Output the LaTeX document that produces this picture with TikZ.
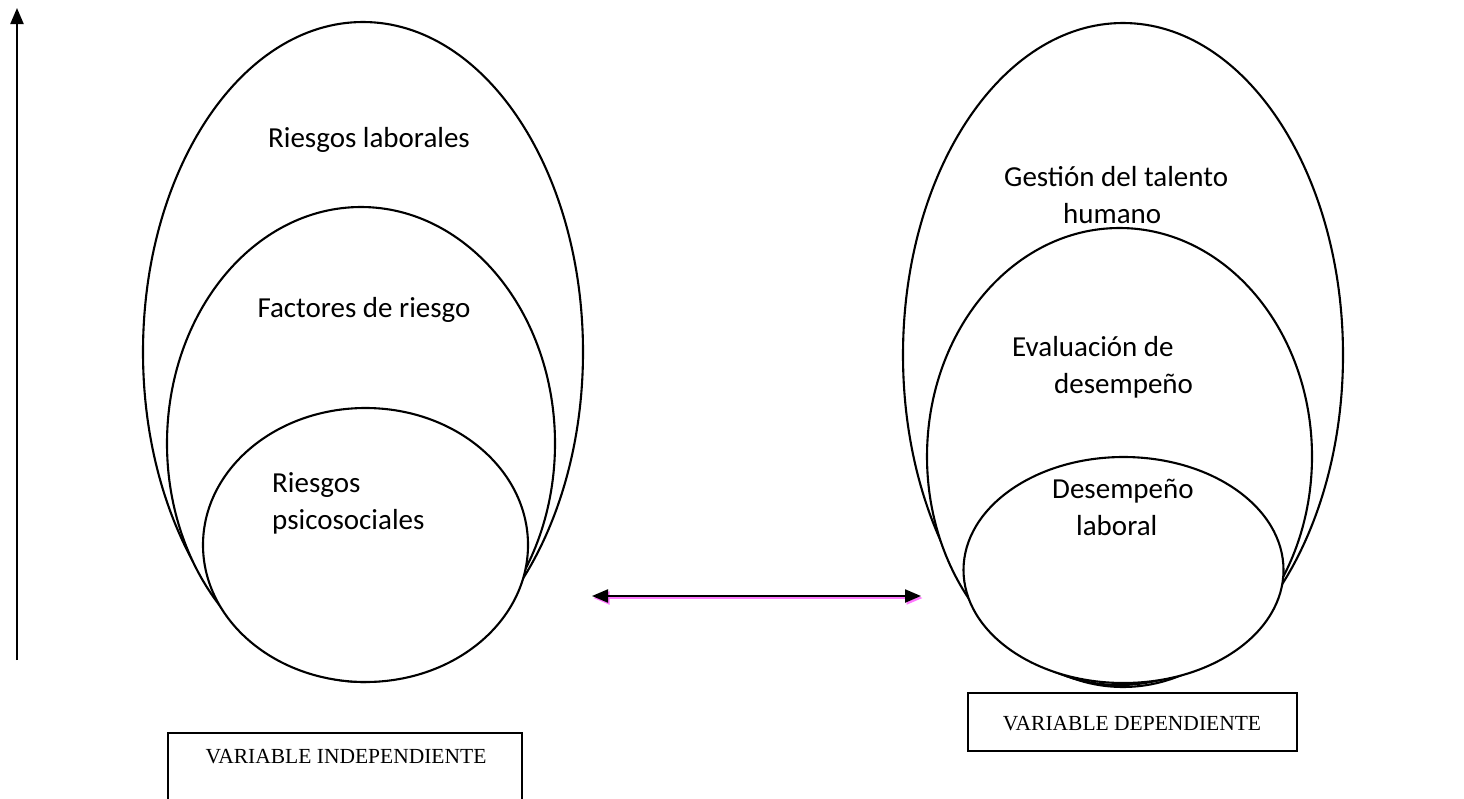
\documentclass[tikz,border=0pt]{standalone}
\usepackage{fontspec}
\usetikzlibrary{shapes.geometric,arrows.meta}
\newfontfamily\bodyfont{Carlito}
\newfontfamily\boxfont{Liberation Serif}
\definecolor{shadowpink}{RGB}{255,120,255}
\tikzset{
  ring/.style={draw, ellipse, line width=2.1pt, fill=white, inner sep=0pt},
  lbl/.style={inner sep=0pt, font=\bodyfont\fontsize{29}{37}\selectfont},
  varbox/.style={draw, rectangle, line width=2pt, inner sep=0pt},
  vartext/.style={inner sep=0pt, font=\boxfont\fontsize{21.5}{25}\selectfont},
  tip/.style={-{Triangle[length=16pt,width=13pt]}},
  bitip/.style={{Triangle[length=16pt,width=13pt]}-{Triangle[length=16pt,width=13pt]}}
}
\begin{document}
\begin{tikzpicture}[x=1pt,y=-1pt]
\useasboundingbox (0,0) rectangle (1464,798);
\clip (0,0) rectangle (1464,798);
\fill[white] (0,0) rectangle (1464,798);

% vertical axis arrow
\coordinate (vbot) at (17,660);
\coordinate (vtop) at (17,8);
\draw[line width=2.2pt, tip] (vbot) -- (vtop);

% independent variable: nested ellipses
\node[ring, minimum width=440pt, minimum height=660pt] (lo) at (363,352) {};
\node[ring, minimum width=388pt, minimum height=473pt] (lm) at (361,443.5) {};
\node[ring, minimum width=325pt, minimum height=274pt] (ls) at (365.5,545) {};
\node[lbl] (t1) at (369,140) {Riesgos laborales};
\node[lbl] (t2) at (364,310) {Factores de riesgo};
\node[lbl, align=left, anchor=west] (t3) at (272,503) {Riesgos\\psicosociales};

% dependent variable: nested ellipses
\node[ring, minimum width=440pt, minimum height=664pt] (ro) at (1123,355) {};
\node[ring, minimum width=385pt, minimum height=457pt] (rm) at (1119.5,456.5) {};
\node[ring, minimum width=320pt, minimum height=226pt] (rs) at (1123.5,570) {};
\node[lbl, align=left, anchor=west] (t4) at (1004,195.5) {Gestión del talento\\\hspace*{59pt}humano};
\node[lbl, align=left, anchor=west] (t5) at (1012,367) {Evaluación de\\\hspace*{42pt}desempeño};
\node[lbl, align=left, anchor=west] (t6) at (1052,507.5) {Desempeño\\\hspace*{24pt}laboral};

% relation arrow with its pink shadow
\coordinate (ha) at (592,596);
\coordinate (hb) at (921,596);
\draw[shadowpink, line width=2pt, bitip, transform canvas={xshift=1.5pt,yshift=-2pt}] (ha) -- (hb);
\draw[line width=2.2pt, bitip] (ha) -- (hb);

% variable labels
\node[varbox, anchor=north, minimum width=354pt, minimum height=90pt] (lb) at (345,732) {};
\node[vartext] (lbt) at (346,757) {VARIABLE INDEPENDIENTE};
\node[varbox, minimum width=329pt, minimum height=58pt] (rb) at (1132.5,722) {};
\node[vartext] (rbt) at (1132,724) {VARIABLE DEPENDIENTE};
\end{tikzpicture}
\end{document}
